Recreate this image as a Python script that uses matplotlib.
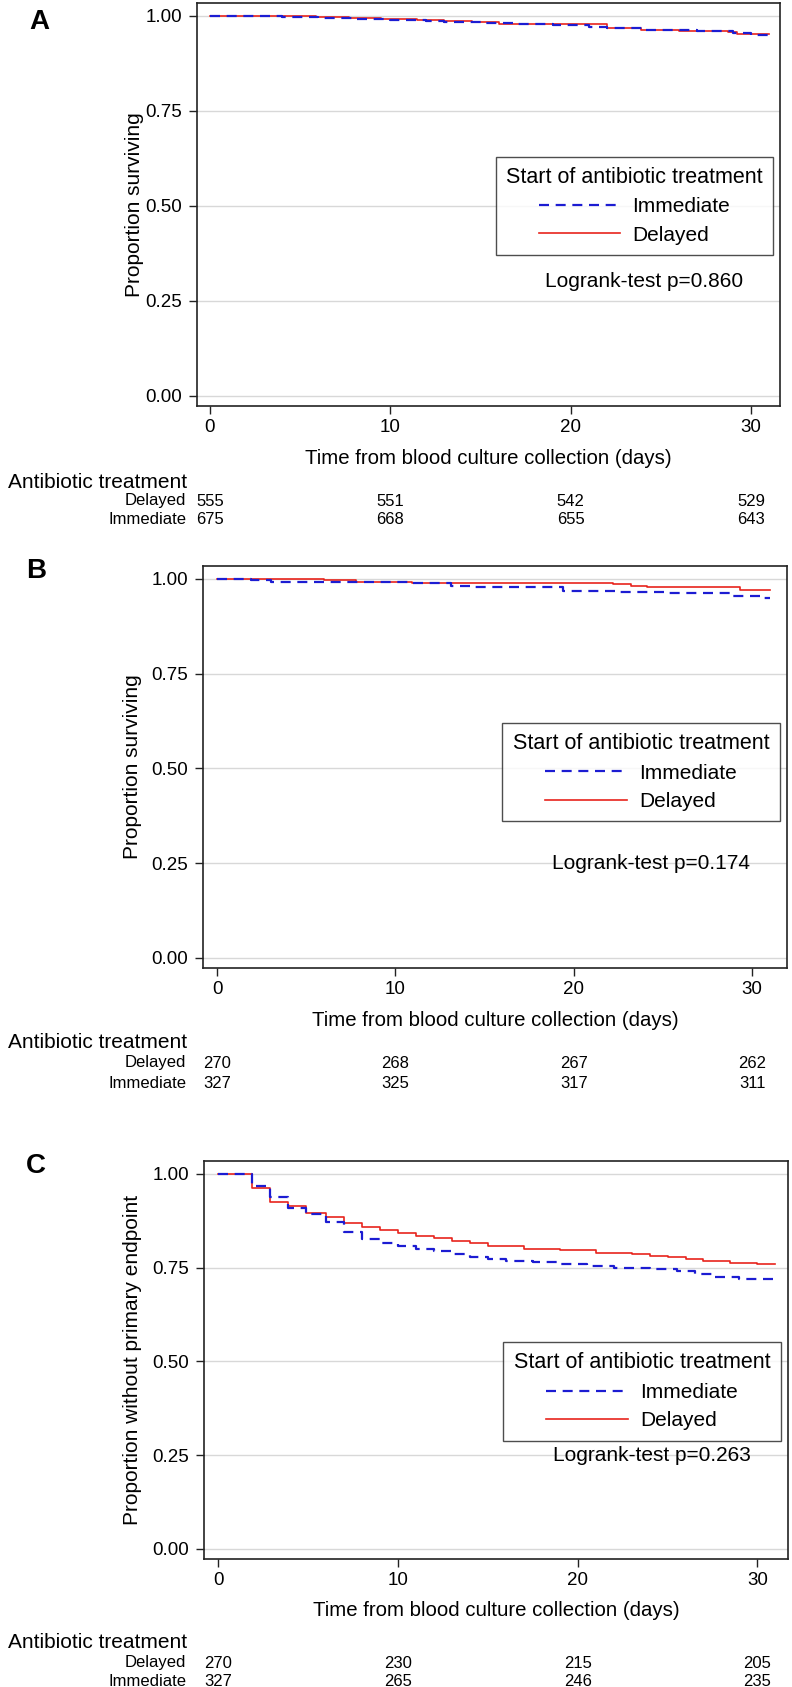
import matplotlib
matplotlib.use("Agg")
import matplotlib.pyplot as plt
import matplotlib.transforms as mtransforms
from matplotlib.ticker import FormatStrFormatter

plt.rcParams['font.family'] = ['Liberation Sans', 'DejaVu Sans']

# ---------------- data ----------------
days_ticks = [0, 10, 20, 30]
end_day = 31.0

# Panel A
A_imm_t = [0, 2.0, 4.0, 6.0, 8.0, 10.0, 12.0, 13.0, 15.0, 17.0, 19.0, 21.0, 22.0, 24.0, 27.0, 29.0, 30.0]
A_imm_s = [1.0, 0.999, 0.997, 0.995, 0.993, 0.990, 0.987, 0.985, 0.982, 0.978, 0.975, 0.972, 0.969, 0.962, 0.960, 0.955, 0.951]
A_del_t = [0, 5.9, 7.7, 9.5, 11.5, 13.0, 14.5, 16.0, 22.0, 23.9, 26.0, 28.7, 29.2]
A_del_s = [1.0, 0.998, 0.995, 0.993, 0.990, 0.986, 0.983, 0.978, 0.969, 0.962, 0.961, 0.957, 0.953]
A_risk_delayed = [555, 551, 542, 529]
A_risk_immediate = [675, 668, 655, 643]
A_p = "0.860"

# Panel B
B_imm_t = [0, 1.9, 3.0, 11.0, 13.1, 14.3, 19.4, 22.3, 25.1, 28.8, 30.5]
B_imm_s = [1.0, 0.996, 0.993, 0.989, 0.982, 0.978, 0.969, 0.965, 0.962, 0.956, 0.949]
B_del_t = [0, 6.0, 7.8, 10.9, 22.2, 23.2, 24.1, 29.3]
B_del_s = [1.0, 0.996, 0.993, 0.989, 0.987, 0.982, 0.978, 0.971]
B_risk_delayed = [270, 268, 267, 262]
B_risk_immediate = [327, 325, 317, 311]
B_p = "0.174"

# Panel C
C_imm_t = [0, 1.9, 2.9, 3.9, 4.9, 6.0, 7.0, 8.0, 9.0, 10.0, 11.0, 12.0, 13.0, 14.0, 15.0, 16.0,
           17.5, 19.0, 20.5, 22.0, 24.0, 25.5, 26.5, 27.5, 29.0]
C_imm_s = [1.0, 0.967, 0.938, 0.910, 0.894, 0.871, 0.845, 0.827, 0.815, 0.808, 0.800, 0.795, 0.785, 0.778,
           0.772, 0.768, 0.765, 0.760, 0.755, 0.750, 0.745, 0.740, 0.733, 0.725, 0.719]
C_del_t = [0, 1.9, 2.9, 3.9, 4.9, 6.0, 7.0, 8.0, 9.0, 10.0, 11.0, 12.0, 13.0, 14.0, 15.0, 17.0,
           19.0, 21.0, 23.0, 24.0, 25.0, 26.0, 27.0, 28.5, 30.0]
C_del_s = [1.0, 0.963, 0.925, 0.915, 0.896, 0.885, 0.869, 0.858, 0.849, 0.842, 0.835, 0.828, 0.820, 0.816,
           0.808, 0.800, 0.796, 0.790, 0.786, 0.782, 0.778, 0.773, 0.768, 0.763, 0.759]
C_risk_delayed = [270, 230, 215, 205]
C_risk_immediate = [327, 265, 246, 235]
C_p = "0.263"

group_labels = ["Immediate", "Delayed"]
legend_title = "Start of antibiotic treatment"
risk_title = "Antibiotic treatment"
xlabel = "Time from blood culture collection (days)"
ylabels = ["Proportion surviving", "Proportion surviving", "Proportion without primary endpoint"]
panel_letters = ["A", "B", "C"]

BLUE = "#1c1cd2"
RED = "#e8241c"

# ---------------- layout (pixels) ----------------
W, H = 792, 1687
fig = plt.figure(figsize=(W / 100, H / 100), dpi=100)

def fy(px):
    return 1 - px / H

panels = [
    dict(box=(197, 3, 780, 406), xlim=(-0.72, 31.6), letter=(39, 22),
         imm=(A_imm_t, A_imm_s), dl=(A_del_t, A_del_s), rd=A_risk_delayed, ri=A_risk_immediate, p=A_p,
         leg_y=0.50, p_y=0.30, xly=459, rty=482, rdy=501, riy=520, ylx=134),
    dict(box=(203, 566, 787, 968), xlim=(-0.79, 31.95), letter=(36, 571),
         imm=(B_imm_t, B_imm_s), dl=(B_del_t, B_del_s), rd=B_risk_delayed, ri=B_risk_immediate, p=B_p,
         leg_y=0.49, p_y=0.25, xly=1020, rty=1042, rdy=1063, riy=1083, ylx=132),
    dict(box=(204, 1161, 788, 1559), xlim=(-0.78, 31.7), letter=(36, 1166),
         imm=(C_imm_t, C_imm_s), dl=(C_del_t, C_del_s), rd=C_risk_delayed, ri=C_risk_immediate, p=C_p,
         leg_y=0.42, p_y=0.25, xly=1610, rty=1643, rdy=1663, riy=1682, ylx=132),
]

for i, P in enumerate(panels):
    x0, y0, x1, y1 = P['box']
    ax = fig.add_axes([x0 / W, fy(y1), (x1 - x0) / W, (y1 - y0) / H])
    ax.set_xlim(*P['xlim'])
    ax.set_ylim(-0.027, 1.034)

    dt, ds = P['dl']
    it, is_ = P['imm']
    ld, = ax.step(list(dt) + [end_day], list(ds) + [ds[-1]], where='post', color=RED, lw=1.2,
                  label=group_labels[1], zorder=3)
    li, = ax.step(list(it) + [end_day], list(is_) + [is_[-1]], where='post', color=BLUE, lw=1.6,
                  dashes=(4.5, 3.0), label=group_labels[0], zorder=4)

    ax.set_xticks(days_ticks)
    ax.set_yticks([0, 0.25, 0.5, 0.75, 1.0])
    ax.yaxis.set_major_formatter(FormatStrFormatter('%.2f'))
    ax.tick_params(axis='both', direction='out', length=6, width=1, labelsize=13.5, color='#222222')
    ax.tick_params(axis='y', pad=4.5)
    ax.tick_params(axis='x', pad=3.5)
    ax.yaxis.grid(True, color='#d8d8d8', lw=1.0, zorder=0)
    ax.set_axisbelow(True)
    for sp in ax.spines.values():
        sp.set_color('#222222')
        sp.set_linewidth(1.2)

    ax.set_ylabel(ylabels[i], fontsize=15, va='center')
    ax.yaxis.set_label_coords((P['ylx'] - x0) / (x1 - x0), 0.5)
    ax.set_xlabel(xlabel, fontsize=14.7, va='center')
    ax.xaxis.set_label_coords(0.5, -(P['xly'] - y1) / (y1 - y0))

    # legend
    trans_leg = mtransforms.blended_transform_factory(ax.transAxes, ax.transData)
    leg = ax.legend(handles=[li, ld], title=legend_title, loc='center',
                    bbox_to_anchor=(0.75, P['leg_y']), bbox_transform=trans_leg,
                    fontsize=15, title_fontsize=15.5, frameon=True, fancybox=False,
                    edgecolor='#222222', handlelength=3.9, handletextpad=0.6,
                    borderpad=0.5, labelspacing=0.45, borderaxespad=0)
    leg.get_frame().set_linewidth(1.0)
    leg.set_zorder(5)

    ax.text(0.767, P['p_y'], "Logrank-test p=" + P['p'], transform=trans_leg,
            ha='center', va='center', fontsize=15, zorder=6)

    # panel letter
    fig.text(P['letter'][0] / W, fy(P['letter'][1]), panel_letters[i], fontsize=20,
             fontweight='bold', ha='center', va='center')

    # risk table
    tr = mtransforms.blended_transform_factory(ax.transData, fig.transFigure)
    fig.text(8 / W, fy(P['rty']), risk_title, fontsize=15, ha='left', va='center')
    fig.text(186 / W, fy(P['rdy']), group_labels[1], fontsize=12, ha='right', va='center')
    fig.text(186 / W, fy(P['riy']), group_labels[0], fontsize=12, ha='right', va='center')
    for d, n in zip(days_ticks, P['rd']):
        ax.text(d, fy(P['rdy']), str(n), transform=tr, fontsize=12, ha='center', va='center',
                clip_on=False)
    for d, n in zip(days_ticks, P['ri']):
        ax.text(d, fy(P['riy']), str(n), transform=tr, fontsize=12, ha='center', va='center',
                clip_on=False)

fig.savefig("out.png", dpi=100, facecolor='white')
